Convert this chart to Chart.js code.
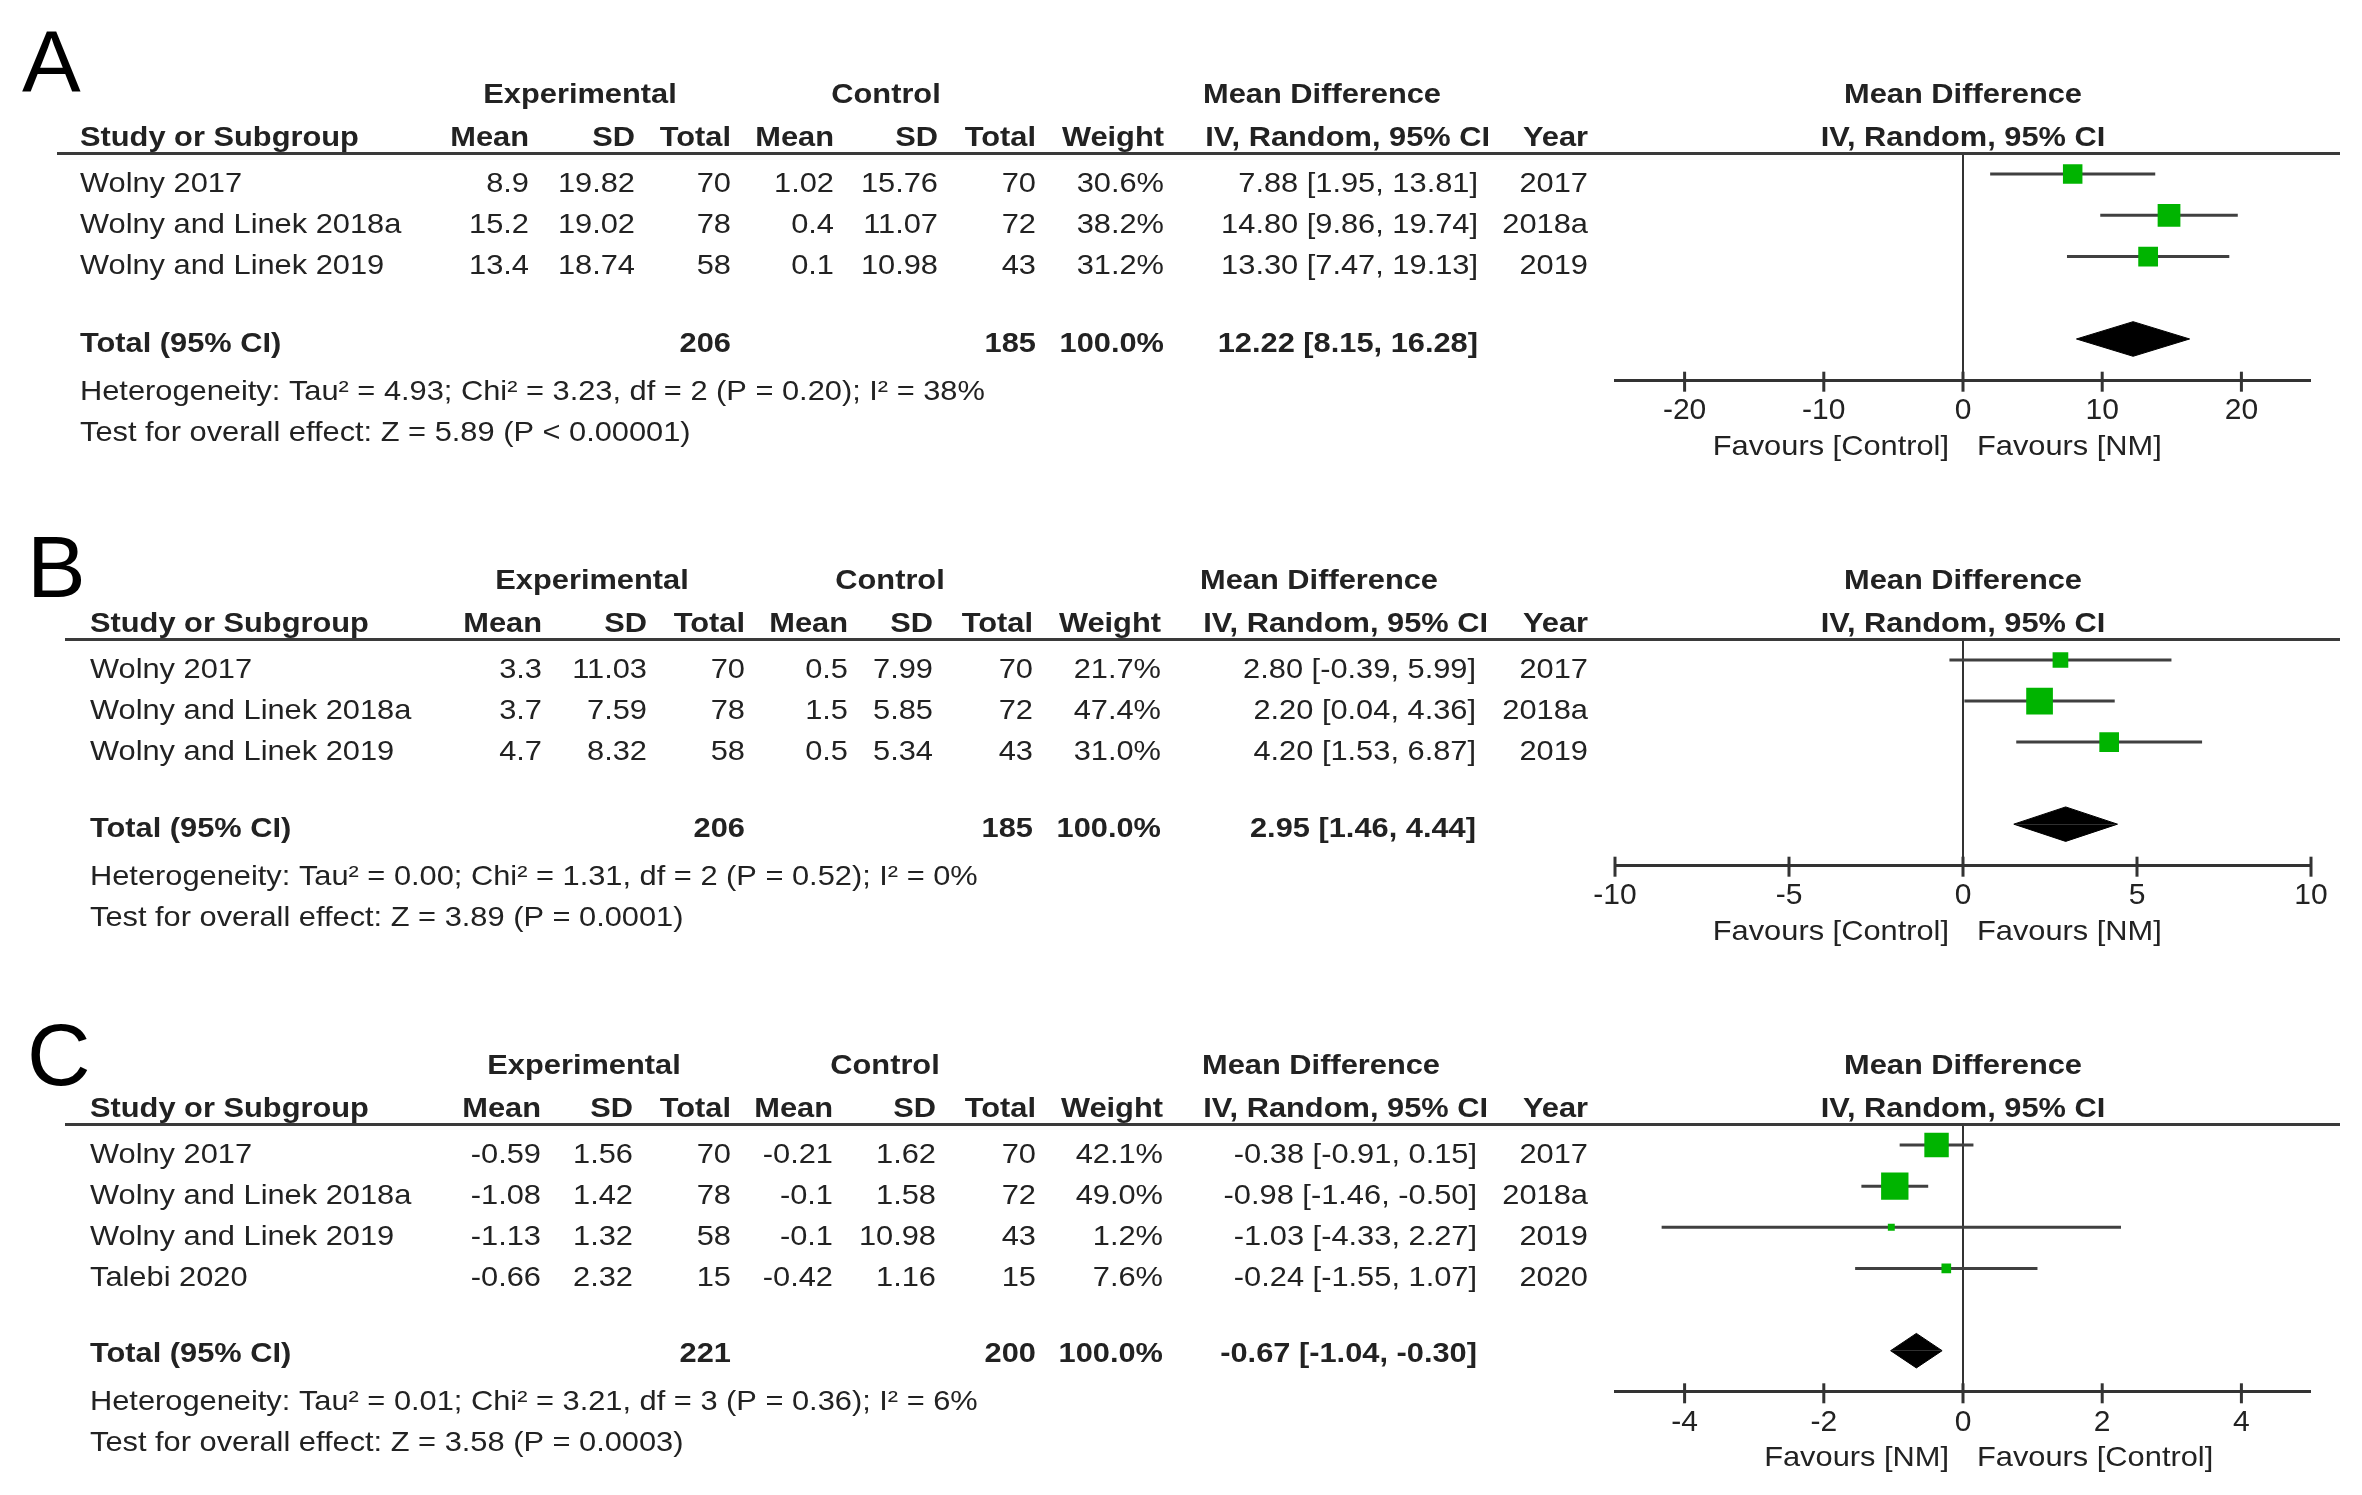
<!DOCTYPE html>
<html lang="en">
<head>
    <meta charset="utf-8">
    <title>Forest plots - Mean Difference</title>
    <script src="https://cdn.jsdelivr.net/npm/chart.js@4.4.0/dist/chart.umd.min.js"></script>
    <style>
        body { margin: 0; background: #fff; }
        canvas.panel { position: absolute; left: 0; }
    </style>
</head>
<body>
<canvas id="panel-a" class="panel" width="2362" height="490" style="top:0"></canvas>
<canvas id="panel-b" class="panel" width="2362" height="485" style="top:490px"></canvas>
<canvas id="panel-c" class="panel" width="2362" height="520" style="top:975px"></canvas>
<script>
    // ---- panel A data ----
    const studiesA = ['Wolny 2017', 'Wolny and Linek 2018a', 'Wolny and Linek 2019'];
    const expMeanA = [8.9, 15.2, 13.4];
    const expSdA = [19.82, 19.02, 18.74];
    const expNA = [70, 78, 58];
    const ctlMeanA = [1.02, 0.4, 0.1];
    const ctlSdA = [15.76, 11.07, 10.98];
    const ctlNA = [70, 72, 43];
    const weightA = [30.6, 38.2, 31.2];
    const mdA = [7.88, 14.80, 13.30];
    const loA = [1.95, 9.86, 7.47];
    const hiA = [13.81, 19.74, 19.13];
    const yearA = ['2017', '2018a', '2019'];
    const totalsA = [206, 185];
    const pooledA = [12.22, 8.15, 16.28];
    const hetA = 'Heterogeneity: Tau² = 4.93; Chi² = 3.23, df = 2 (P = 0.20); I² = 38%';
    const testA = 'Test for overall effect: Z = 5.89 (P < 0.00001)';
    const ticksA = [-20, -10, 0, 10, 20];
    const rangeA = [-25, 25];
    const favoursA = ['Favours [Control]', 'Favours [NM]'];

    // ---- panel B data ----
    const studiesB = ['Wolny 2017', 'Wolny and Linek 2018a', 'Wolny and Linek 2019'];
    const expMeanB = [3.3, 3.7, 4.7];
    const expSdB = [11.03, 7.59, 8.32];
    const expNB = [70, 78, 58];
    const ctlMeanB = [0.5, 1.5, 0.5];
    const ctlSdB = [7.99, 5.85, 5.34];
    const ctlNB = [70, 72, 43];
    const weightB = [21.7, 47.4, 31.0];
    const mdB = [2.80, 2.20, 4.20];
    const loB = [-0.39, 0.04, 1.53];
    const hiB = [5.99, 4.36, 6.87];
    const yearB = ['2017', '2018a', '2019'];
    const totalsB = [206, 185];
    const pooledB = [2.95, 1.46, 4.44];
    const hetB = 'Heterogeneity: Tau² = 0.00; Chi² = 1.31, df = 2 (P = 0.52); I² = 0%';
    const testB = 'Test for overall effect: Z = 3.89 (P = 0.0001)';
    const ticksB = [-10, -5, 0, 5, 10];
    const rangeB = [-10, 10];
    const favoursB = ['Favours [Control]', 'Favours [NM]'];

    // ---- panel C data ----
    const studiesC = ['Wolny 2017', 'Wolny and Linek 2018a', 'Wolny and Linek 2019', 'Talebi 2020'];
    const expMeanC = [-0.59, -1.08, -1.13, -0.66];
    const expSdC = [1.56, 1.42, 1.32, 2.32];
    const expNC = [70, 78, 58, 15];
    const ctlMeanC = [-0.21, -0.1, -0.1, -0.42];
    const ctlSdC = [1.62, 1.58, 10.98, 1.16];
    const ctlNC = [70, 72, 43, 15];
    const weightC = [42.1, 49.0, 1.2, 7.6];
    const mdC = [-0.38, -0.98, -1.03, -0.24];
    const loC = [-0.91, -1.46, -4.33, -1.55];
    const hiC = [0.15, -0.50, 2.27, 1.07];
    const yearC = ['2017', '2018a', '2019', '2020'];
    const totalsC = [221, 200];
    const pooledC = [-0.67, -1.04, -0.30];
    const hetC = 'Heterogeneity: Tau² = 0.01; Chi² = 3.21, df = 3 (P = 0.36); I² = 6%';
    const testC = 'Test for overall effect: Z = 3.58 (P = 0.0003)';
    const ticksC = [-4, -2, 0, 2, 4];
    const rangeC = [-5, 5];
    const favoursC = ['Favours [NM]', 'Favours [Control]'];
</script>
<script>
    const FONT = '"Liberation Sans", Arial, Helvetica, sans-serif';
    const INK = '#222';
    const GREEN = '#00b400';

    // the source text is Arial, slightly stretched sideways
    function put(ctx, str, x, y, align, bold) {
        ctx.save();
        ctx.font = (bold ? 'bold ' : '') + '28px ' + FONT;
        ctx.fillStyle = INK;
        ctx.textAlign = align;
        ctx.textBaseline = 'alphabetic';
        ctx.translate(x, y);
        ctx.scale(1.1, 1);
        ctx.fillText(str, 0, 0);
        ctx.restore();
    }

    function ci(md, lo, hi) {
        return md.toFixed(2) + ' [' + lo.toFixed(2) + ', ' + hi.toFixed(2) + ']';
    }

    function boxSide(w) {
        return 6.4 + 0.428 * w;
    }

    function forest(id, d, lay) {
        const n = d.studies.length;
        const T = n + 1;      // row of the pooled estimate
        const h = 0.42;       // half height of the diamond, in rows

        let datasets = [];
        datasets.push({
            type: 'scatter',
            order: 0,
            data: d.md.map((v, i) => ({x: v, y: i})),
            pointStyle: 'rect',
            pointRadius: c => boxSide(d.weight[c.dataIndex]) / Math.SQRT2,
            backgroundColor: GREEN,
            borderWidth: 0
        });
        // diamond as two filled triangles
        [T - h, T + h].forEach(tip => {
            datasets.push({
                type: 'line',
                order: 1,
                data: [{x: d.pooled[1], y: T}, {x: d.pooled[0], y: tip}, {x: d.pooled[2], y: T}],
                borderColor: '#000',
                backgroundColor: '#000',
                borderWidth: 1,
                pointRadius: 0,
                fill: {value: T}
            });
        });
        d.lo.forEach((lo, i) => {
            datasets.push({
                type: 'line',
                order: 2,
                data: [{x: lo, y: i}, {x: d.hi[i], y: i}],
                borderColor: '#404040',
                borderWidth: 3,
                pointRadius: 0,
                fill: false
            });
        });

        const tablePlugin = {
            id: 'table' + id,
            afterDraw(chart) {
                const ctx = chart.ctx;
                const xs = chart.scales.x, ys = chart.scales.y, area = chart.chartArea;
                const ruleY = area.top;
                const col = lay.cols;

                ctx.save();
                ctx.strokeStyle = '#3a3a3a';
                ctx.lineWidth = 3;
                ctx.beginPath();
                ctx.moveTo(lay.ruleLeft, ruleY);
                ctx.lineTo(2340, ruleY);
                ctx.stroke();

                ctx.font = '88px ' + FONT;
                ctx.fillStyle = '#000';
                ctx.textAlign = 'left';
                ctx.fillText(lay.letter, lay.letterX, lay.letterY);
                ctx.restore();

                // column headers
                const gy = ruleY - 50.5, hy = ruleY - 8;
                const mid = (area.left + area.right) / 2;
                put(ctx, 'Experimental', lay.expCenter, gy, 'center', true);
                put(ctx, 'Control', lay.ctlCenter, gy, 'center', true);
                put(ctx, 'Mean Difference', lay.mdCenter, gy, 'center', true);
                put(ctx, 'Mean Difference', mid, gy, 'center', true);
                put(ctx, 'Study or Subgroup', lay.left, hy, 'left', true);
                ['Mean', 'SD', 'Total', 'Mean', 'SD', 'Total', 'Weight'].forEach((t, k) => {
                    put(ctx, t, col[k], hy, 'right', true);
                });
                put(ctx, 'IV, Random, 95% CI', lay.ciHead, hy, 'right', true);
                put(ctx, 'Year', lay.year, hy, 'right', true);
                put(ctx, 'IV, Random, 95% CI', mid, hy, 'center', true);

                // study rows
                for (let i = 0; i < n; i++) {
                    const y = ys.getPixelForValue(i) + 17.5;
                    put(ctx, d.studies[i], lay.left, y, 'left');
                    put(ctx, String(d.expMean[i]), col[0], y, 'right');
                    put(ctx, String(d.expSd[i]), col[1], y, 'right');
                    put(ctx, String(d.expN[i]), col[2], y, 'right');
                    put(ctx, String(d.ctlMean[i]), col[3], y, 'right');
                    put(ctx, String(d.ctlSd[i]), col[4], y, 'right');
                    put(ctx, String(d.ctlN[i]), col[5], y, 'right');
                    put(ctx, d.weight[i].toFixed(1) + '%', col[6], y, 'right');
                    put(ctx, ci(d.md[i], d.lo[i], d.hi[i]), lay.ci, y, 'right');
                    put(ctx, d.year[i], lay.year, y, 'right');
                }

                // total row and footnotes
                const ty = ys.getPixelForValue(T) + lay.totalShift;
                put(ctx, 'Total (95% CI)', lay.left, ty, 'left', true);
                put(ctx, String(d.totals[0]), col[2], ty, 'right', true);
                put(ctx, String(d.totals[1]), col[5], ty, 'right', true);
                put(ctx, '100.0%', col[6], ty, 'right', true);
                put(ctx, ci(d.pooled[0], d.pooled[1], d.pooled[2]), lay.ci, ty, 'right', true);
                put(ctx, d.het, lay.left, ty + 48, 'left');
                put(ctx, d.test, lay.left, ty + 89, 'left');

                // tick marks cross the axis line
                const axisY = area.bottom + 1.5;
                ctx.save();
                ctx.strokeStyle = '#333';
                ctx.lineWidth = 3;
                xs.ticks.forEach(t => {
                    const x = xs.getPixelForValue(t.value);
                    ctx.beginPath();
                    ctx.moveTo(x, axisY - 10);
                    ctx.lineTo(x, axisY + 10);
                    ctx.stroke();
                });
                ctx.restore();

                const zx = xs.getPixelForValue(0);
                put(ctx, d.favours[0], zx - 14, axisY + 73, 'right');
                put(ctx, d.favours[1], zx + 14, axisY + 73, 'left');
            }
        };

        return new Chart(document.getElementById(id), {
            type: 'scatter',
            data: {datasets: datasets},
            options: {
                responsive: false,
                animation: false,
                events: [],
                layout: {padding: {left: 1615, right: 51, top: lay.top, bottom: lay.bottom}},
                plugins: {legend: {display: false}, tooltip: {enabled: false}},
                scales: {
                    x: {
                        type: 'linear',
                        position: 'bottom',
                        min: d.range[0],
                        max: d.range[1],
                        afterBuildTicks: s => { s.ticks = d.ticks.map(v => ({value: v})); },
                        afterFit: s => { s.height = 60; },
                        grid: {
                            drawTicks: false,
                            color: c => (c.tick && c.tick.value === 0) ? '#333' : 'rgba(0,0,0,0)',
                            lineWidth: c => (c.tick && c.tick.value === 0) ? 2 : 0
                        },
                        border: {display: true, color: '#333', width: 3},
                        ticks: {
                            color: INK,
                            font: {family: FONT, size: 30},
                            padding: 13,
                            maxRotation: 0,
                            autoSkip: false
                        }
                    },
                    y: {type: 'linear', min: -0.5, max: n + 2, reverse: true, display: false}
                }
            },
            plugins: [tablePlugin]
        });
    }

    forest('panel-a', {
        studies: studiesA, expMean: expMeanA, expSd: expSdA, expN: expNA,
        ctlMean: ctlMeanA, ctlSd: ctlSdA, ctlN: ctlNA, weight: weightA,
        md: mdA, lo: loA, hi: hiA, year: yearA, totals: totalsA, pooled: pooledA,
        het: hetA, test: testA, ticks: ticksA, range: rangeA, favours: favoursA
    }, {
        letter: 'A', letterX: 22, letterY: 92, top: 153.5, bottom: 49.8, totalShift: 13,
        left: 80, ruleLeft: 57, expCenter: 580, ctlCenter: 886, mdCenter: 1322,
        cols: [529, 635, 731, 834, 938, 1036, 1164], ci: 1478, ciHead: 1490, year: 1588
    });

    forest('panel-b', {
        studies: studiesB, expMean: expMeanB, expSd: expSdB, expN: expNB,
        ctlMean: ctlMeanB, ctlSd: ctlSdB, ctlN: ctlNB, weight: weightB,
        md: mdB, lo: loB, hi: hiB, year: yearB, totals: totalsB, pooled: pooledB,
        het: hetB, test: testB, ticks: ticksB, range: rangeB, favours: favoursB
    }, {
        letter: 'B', letterX: 27, letterY: 107, top: 149.5, bottom: 49.8, totalShift: 13,
        left: 90, ruleLeft: 65, expCenter: 592, ctlCenter: 890, mdCenter: 1319,
        cols: [542, 647, 745, 848, 933, 1033, 1161], ci: 1476, ciHead: 1488, year: 1588
    });

    forest('panel-c', {
        studies: studiesC, expMean: expMeanC, expSd: expSdC, expN: expNC,
        ctlMean: ctlMeanC, ctlSd: ctlSdC, ctlN: ctlNC, weight: weightC,
        md: mdC, lo: loC, hi: hiC, year: yearC, totals: totalsC, pooled: pooledC,
        het: hetC, test: testC, ticks: ticksC, range: rangeC, favours: favoursC
    }, {
        letter: 'C', letterX: 27, letterY: 110, top: 149.5, bottom: 43.2, totalShift: 11,
        left: 90, ruleLeft: 65, expCenter: 584, ctlCenter: 885, mdCenter: 1321,
        cols: [541, 633, 731, 833, 936, 1036, 1163], ci: 1477, ciHead: 1488, year: 1588
    });
</script>
</body>
</html>
